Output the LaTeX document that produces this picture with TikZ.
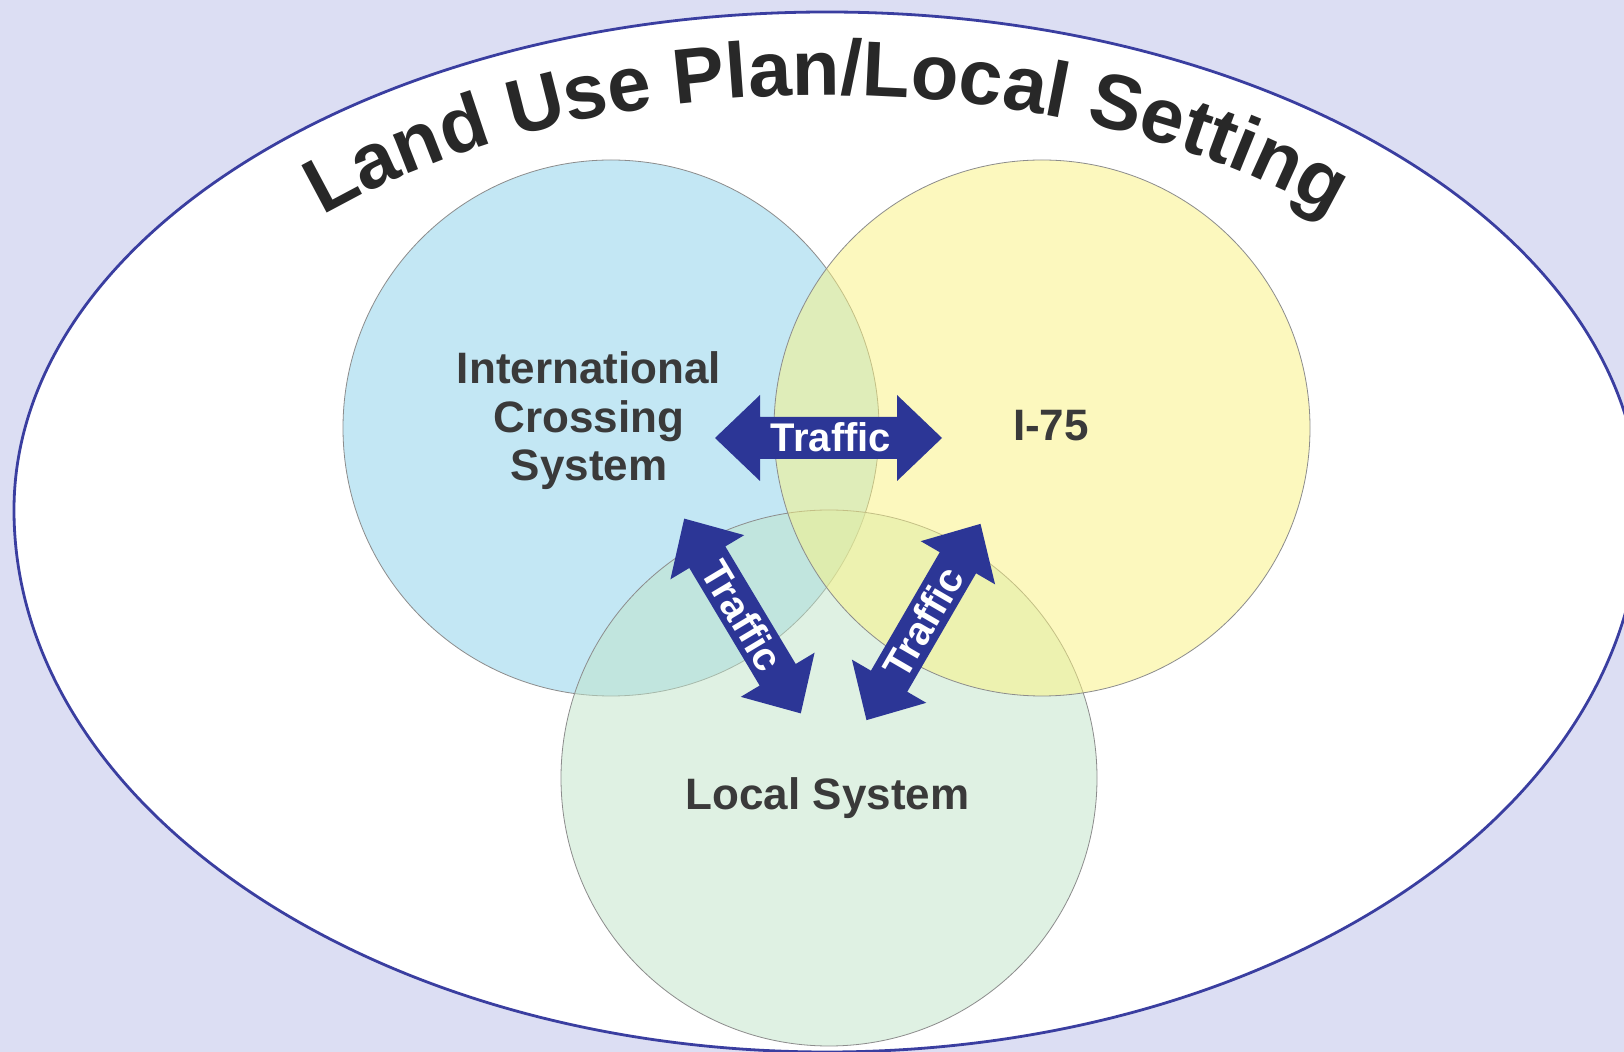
\documentclass[tikz,border=0pt]{standalone}
\usepackage{fontspec}
\setmainfont{Liberation Sans}
\newfontfamily\titlefont{Liberation Sans}
\usetikzlibrary{decorations.text}
\definecolor{bgcol}{RGB}{220,222,243}
\definecolor{ringblue}{RGB}{58,62,160}
\definecolor{arrowblue}{RGB}{44,54,150}
\definecolor{cblue}{RGB}{137,209,235}
\definecolor{cyellow}{RGB}{251,243,127}
\definecolor{cgreen}{RGB}{193,229,201}
\definecolor{circgray}{RGB}{140,140,140}
\definecolor{labelgray}{RGB}{58,58,58}
\definecolor{titlegray}{RGB}{40,40,40}
\begin{document}
\begin{tikzpicture}[x=0.5pt, y=-0.5pt,
  vcircle/.style={circle, minimum size=268pt, inner sep=0pt, draw=circgray, line width=0.4pt, fill opacity=0.5},
  lbl/.style={font=\bfseries\fontsize{22}{24.25}\selectfont, text=labelgray, inner sep=0pt, align=center},
  traffic/.style={font=\bfseries\fontsize{20}{22}\selectfont, text=white, inner sep=0pt},
  dblarrow/.pic={\fill[arrowblue] (-113.5,0) -- (-68.5,-43) -- (-68.5,-21) -- (68.5,-21) -- (68.5,-43) -- (113.5,0) -- (68.5,43) -- (68.5,21) -- (-68.5,21) -- (-68.5,43) -- cycle;}
]
\useasboundingbox (0,0) rectangle (1624,1052);
\clip (0,0) rectangle (1624,1052);
\fill[bgcol] (0,0) rectangle (1624,1052);
% outer setting
\draw[ringblue, line width=1.4pt, fill=white] (14,510) arc[start angle=180, end angle=360, x radius=813, y radius=498] arc[start angle=0, end angle=180, x radius=813, y radius=542] -- cycle;
% title
\path[decorate, decoration={text along path, text align=center, text color=titlegray, text={|\titlefont\bfseries\fontsize{39}{44}\selectfont|Land Use Plan/Local Setting}}] (155.1,368.1) arc[start angle=200, end angle=340, x radius=715, y radius=415];
% circles
\node[vcircle, fill=cblue] (cis) at (611,428) {};
\node[vcircle, fill=cgreen] (lsc) at (829,778) {};
\node[vcircle, fill=cyellow] (i75c) at (1042,428) {};
% labels
\node[lbl] (ics) at (589,421) {International\\Crossing\\System};
\node[lbl, anchor=base] (i75) at (1051,441) {I-75};
\node[lbl, anchor=base] (loc) at (827.5,810) {Local System};
% traffic arrows
\pic at (828.5,438) {dblarrow};
\node[traffic] (t1) at (831,437) {Traffic};
\pic[rotate=-59.1] at (742.5,616) {dblarrow};
\node[traffic, rotate=-59.1] (t2) at (742.5,616) {Traffic};
\pic[rotate=59.85] at (923.5,622) {dblarrow};
\node[traffic, rotate=59.85] (t3) at (923.5,622) {Traffic};
\end{tikzpicture}
\end{document}
